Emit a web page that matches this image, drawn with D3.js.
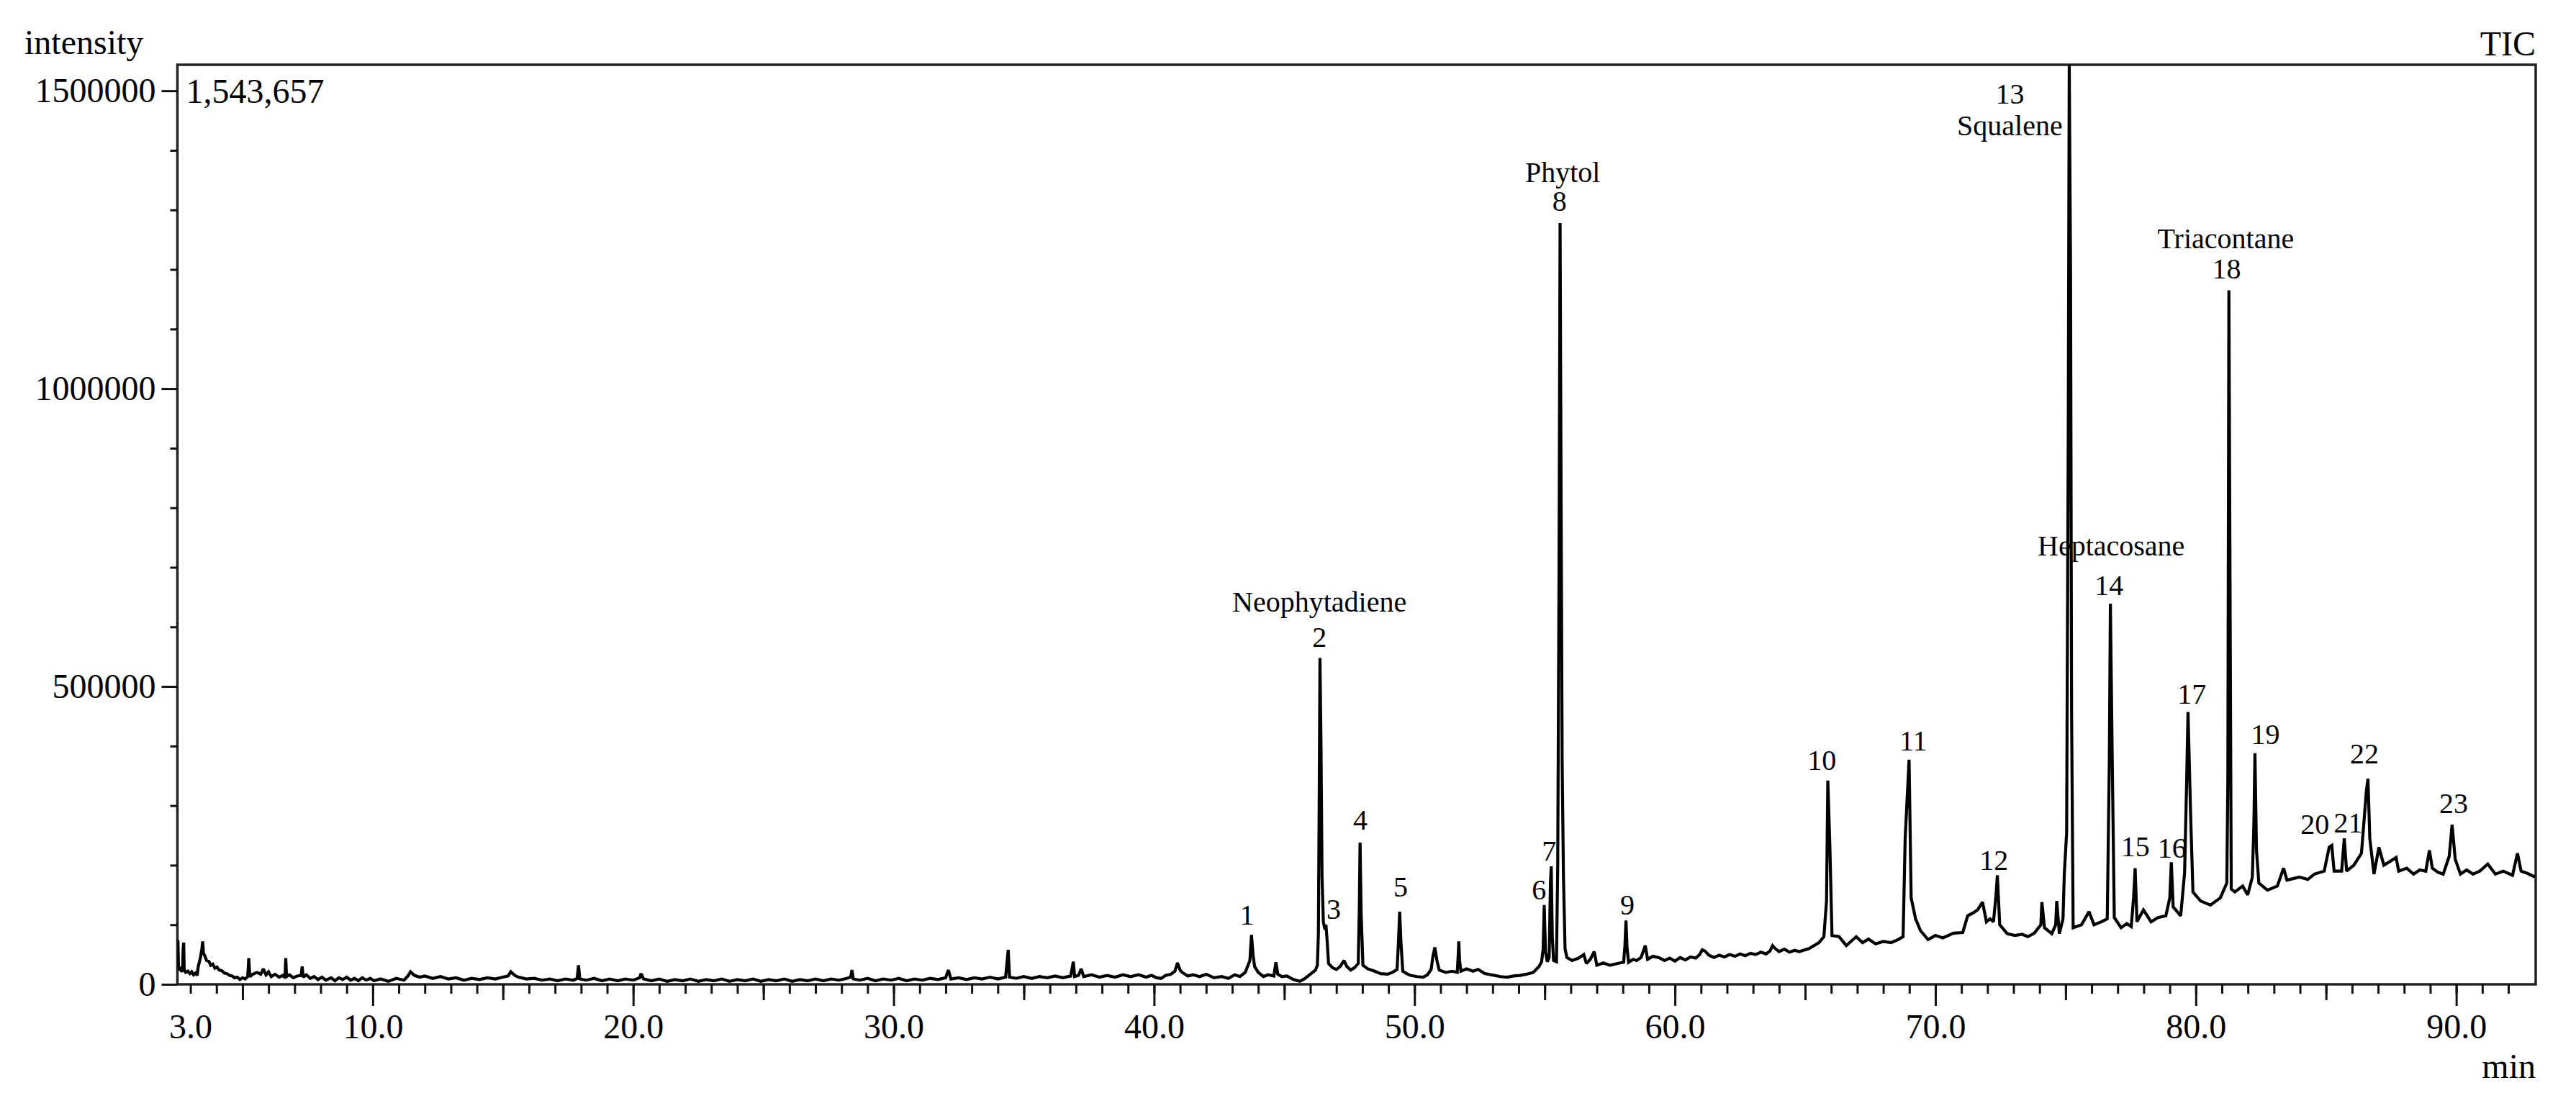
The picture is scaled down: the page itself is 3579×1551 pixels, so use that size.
<!DOCTYPE html>
<html><head><meta charset="utf-8">
<script src="https://cdn.jsdelivr.net/npm/d3@7"></script>
<style>
body{margin:0;background:#fff}
svg{display:block}
text{font-family:"Liberation Serif","Times New Roman",serif;fill:#000}
</style>
</head><body>
<svg id="chart" width="3579" height="1551"></svg>
<script>
// ---------- DATA (retention time in min, intensity in thousands of counts) ----------
const traceEarly = [[2.50,74],[2.52,72],[2.54,30],[2.58,24],[2.62,26],[2.66,21],[2.70,25],[2.72,60],[2.74,70],[2.76,24],[2.82,20],[2.90,22],[2.98,18],[3.05,21],[3.12,16],[3.20,19],[3.26,15],[3.30,30],[3.38,44],[3.44,60],[3.47,72],[3.50,52],[3.56,47],[3.62,40],[3.70,39],[3.78,32],[3.86,34],[3.94,27],[4.02,29],[4.10,24],[4.20,23],[4.30,19],[4.40,18],[4.50,15],[4.60,14],[4.70,11],[4.80,12],[4.90,8],[5.00,11],[5.10,9],[5.20,13],[5.24,44],[5.28,13],[5.40,17],[5.55,20],[5.70,17],[5.80,26],[5.90,16],[6.00,21],[6.10,13],[6.25,17],[6.40,12],[6.55,15],[6.63,11],[6.66,44],[6.69,13],[6.80,16],[6.95,11],[7.10,14],[7.25,15],[7.29,30],[7.33,12],[7.45,16],[7.60,10],[7.75,13],[7.90,8],[8.05,12],[8.20,7],[8.40,11],[8.55,6],[8.70,11],[8.85,8],[9.00,12],[9.15,7],[9.30,10],[9.45,6],[9.60,11],[9.75,7],[9.90,10]];
const traceMid = [[10.05,6],[10.3,9],[10.6,5],[10.9,10],[11.2,7],[11.35,14],[11.45,21],[11.6,15],[11.8,12],[12.0,14],[12.3,10],[12.6,13],[12.9,9],[13.2,11],[13.5,7],[13.8,10],[14.1,8],[14.4,11],[14.7,9],[15.0,12],[15.2,14],[15.3,21],[15.45,15],[15.6,12],[15.9,9],[16.2,10],[16.5,7],[16.8,9],[17.1,6],[17.4,9],[17.7,7],[17.85,10],[17.9,32],[17.95,9],[18.2,7],[18.5,10],[18.8,6],[19.1,9],[19.4,6],[19.7,9],[20.0,7],[20.25,11],[20.3,18],[20.4,9],[20.7,6],[21.0,9],[21.3,5],[21.6,8],[21.9,6],[22.2,9],[22.5,5],[22.8,8],[23.1,6],[23.4,9],[23.7,5],[24.0,8],[24.3,6],[24.6,9],[24.9,5],[25.2,8],[25.5,6],[25.8,9],[26.1,5],[26.4,8],[26.7,6],[27.0,9],[27.3,6],[27.6,9],[27.9,7],[28.2,10],[28.35,12],[28.4,24],[28.45,9],[28.7,7],[29.0,10],[29.3,6],[29.6,9],[29.9,7],[30.2,10],[30.5,6],[30.8,9],[31.1,7],[31.4,10],[31.7,8],[32.0,11],[32.1,24],[32.2,9],[32.5,11],[32.8,8],[33.1,11],[33.4,9],[33.7,12],[34.0,9],[34.3,12],[34.4,58],[34.45,12],[34.7,10],[35.0,13],[35.3,10],[35.6,13],[35.9,11],[36.2,14],[36.5,11],[36.8,14],[36.9,38],[36.95,13],[37.1,15],[37.2,26],[37.3,13],[37.6,16],[37.9,12],[38.2,15],[38.5,12],[38.8,16],[39.1,13],[39.4,16],[39.7,12]];
const traceMain = [[39.9,15],[40.1,11],[40.27,10],[40.45,15],[40.65,17],[40.8,22],[40.9,36],[41.0,24],[41.08,20],[41.3,14],[41.5,16],[41.75,13],[42.0,17],[42.3,11],[42.6,13],[42.85,10],[43.1,16],[43.3,13],[43.5,20],[43.68,40],[43.74,83],[43.8,50],[43.86,30],[44.0,20],[44.2,13],[44.37,16],[44.6,14],[44.68,37],[44.75,17],[44.9,13],[45.1,14],[45.35,8],[45.6,5],[45.8,10],[46.0,17],[46.2,24],[46.27,32],[46.31,85],[46.34,300],[46.37,548],[46.41,400],[46.45,180],[46.5,105],[46.56,92],[46.6,100],[46.65,70],[46.7,35],[46.85,28],[47.0,25],[47.15,30],[47.29,40],[47.4,30],[47.55,24],[47.7,28],[47.84,35],[47.88,125],[47.91,238],[47.95,120],[48.02,32],[48.2,26],[48.47,22],[48.7,18],[48.97,17],[49.15,20],[49.33,25],[49.38,67],[49.43,122],[49.48,70],[49.55,22],[49.7,18],[49.84,15],[50.1,13],[50.33,12],[50.5,16],[50.64,25],[50.7,45],[50.78,62],[50.86,40],[50.95,24],[51.2,20],[51.45,22],[51.64,20],[51.68,50],[51.7,72],[51.73,40],[51.78,22],[52.0,26],[52.25,22],[52.44,25],[52.7,18],[53.07,15],[53.3,13],[53.56,12],[53.8,14],[54.06,15],[54.3,17],[54.56,20],[54.78,30],[54.88,38],[54.94,60],[54.98,133],[55.03,55],[55.1,38],[55.17,45],[55.22,170],[55.25,198],[55.29,80],[55.34,40],[55.45,38],[55.5,200],[55.55,700],[55.59,1278],[55.63,800],[55.67,370],[55.72,180],[55.78,60],[55.85,45],[56.05,40],[56.3,44],[56.5,50],[56.6,35],[56.75,42],[56.9,55],[57.0,32],[57.25,36],[57.5,32],[57.8,35],[58.03,37],[58.08,65],[58.12,107],[58.16,62],[58.22,37],[58.4,42],[58.53,40],[58.7,45],[58.86,65],[58.95,42],[59.15,47],[59.37,45]];
const traceLate = [[59.6,40],[59.8,44],[60.0,39],[60.2,45],[60.4,41],[60.6,46],[60.8,44],[60.95,50],[61.05,58],[61.15,56],[61.3,49],[61.5,45],[61.7,49],[61.9,46],[62.1,50],[62.3,47],[62.5,51],[62.7,48],[62.9,52],[63.1,50],[63.3,54],[63.5,51],[63.65,56],[63.75,65],[63.85,60],[64.0,55],[64.2,59],[64.4,54],[64.6,57],[64.77,55],[65.15,60],[65.53,70],[65.72,80],[65.82,140],[65.87,342],[65.95,230],[66.03,82],[66.3,80],[66.58,65],[66.96,80],[67.2,70],[67.43,76],[67.7,68],[68.0,72],[68.3,70],[68.57,75],[68.76,80],[68.84,245],[68.99,377],[69.07,145],[69.24,110],[69.43,90],[69.72,75],[70.0,82],[70.29,78],[70.7,86],[71.05,87],[71.24,115],[71.45,120],[71.62,125],[71.81,138],[71.96,105],[72.1,110],[72.23,105],[72.33,150],[72.38,183],[72.47,100],[72.76,85],[73.05,82],[73.33,84],[73.55,80],[73.8,86],[74.05,100],[74.09,138],[74.19,95],[74.47,85],[74.62,100],[74.66,140],[74.76,85],[74.9,110],[74.95,185],[75.04,255],[75.1,900],[75.14,1543.657],[75.19,1200],[75.23,456],[75.29,95],[75.61,100],[75.9,122],[76.09,100],[76.37,105],[76.6,110],[76.68,380],[76.72,639],[76.79,380],[76.87,112],[77.13,95],[77.35,102],[77.52,97],[77.61,145],[77.67,195],[77.74,105],[77.99,125],[78.28,105],[78.55,112],[78.85,115],[79.0,145],[79.06,205],[79.13,130],[79.42,115],[79.57,188],[79.65,345],[79.7,457],[79.8,285],[79.89,155],[80.18,140],[80.56,133],[80.94,145],[81.19,170],[81.23,345],[81.27,1165],[81.32,600],[81.36,160],[81.5,155],[81.8,165],[81.99,150],[82.17,180],[82.23,270],[82.27,388],[82.33,225],[82.42,170],[82.75,158],[83.13,165],[83.37,195],[83.5,175],[83.98,180],[84.3,176],[84.55,185],[84.93,190],[85.12,230],[85.22,233],[85.31,190],[85.6,190],[85.7,245],[85.79,190],[86.07,200],[86.36,220],[86.55,325],[86.61,345],[86.68,245],[86.84,185],[87.03,230],[87.22,200],[87.41,205],[87.69,213],[87.79,190],[88.1,195],[88.36,185],[88.6,192],[88.83,190],[88.97,225],[89.08,195],[89.3,188],[89.5,185],[89.73,215],[89.84,268],[89.96,210],[90.16,185],[90.4,192],[90.64,185],[90.9,190],[91.21,202],[91.5,185],[91.8,190],[92.16,183],[92.35,220],[92.49,190],[92.75,186],[93.02,180]];

// peak numbers with label anchors (time, intensity in thousands)
const peakNumbers    = ["1","2","3","4","5","6","7","8","9","10","11","12","13","14","15","16","17","18","19","20","21","22","23"];
const peakLabelTime  = [43.57,46.35,46.9,47.92,49.47,54.78,55.17,55.57,58.17,65.64,69.15,72.25,72.86,76.67,77.68,79.09,79.85,81.18,82.67,84.57,85.85,86.47,89.9];
const peakLabelValue = [100,566,110,260,147,142.5,208,1298,117.5,360.5,393,192.6,1479,653,215,212.6,471,1185,403,252.8,255,370.8,287.8];

const compoundNames = ["Neophytadiene","Phytol","Squalene","Heptacosane","Triacontane"];
const compoundTime  = [46.35,55.69,72.86,76.75,81.15];
const compoundValue = [626,1346.6,1425,720,1235.5];

const xTickLabels = [3,10,20,30,40,50,60,70,80,90];
const yTickLabels = [0,500000,1000000,1500000];
const yMax = 1543657;

// ---------- DRAW ----------
const svg = d3.select("#chart");
const x = d3.scaleLinear().domain([2.5, 93.05]).range([246.5, 3523]);
const y = d3.scaleLinear().domain([0, yMax]).range([1368, 90]);

const trace = [].concat(traceEarly, traceMid, traceMain, traceLate);

// frame
svg.append("rect")
  .attr("x", x(2.5)).attr("y", y(yMax))
  .attr("width", x(93.05) - x(2.5)).attr("height", y(0) - y(yMax))
  .attr("fill", "none").attr("stroke", "#222").attr("stroke-width", 3.5);

const fontSize = 48;
function styleAxis(g){
  g.select(".domain").remove();
  g.selectAll(".tick line").attr("stroke", "#111").attr("stroke-width", 3);
  g.selectAll("text").attr("font-size", fontSize)
   .attr("font-family", '"Liberation Serif","Times New Roman",serif').attr("fill","#000");
}

// x axis ticks: minor 1 min, medium 5 min, major 10 min
const xg = svg.append("g").attr("transform", `translate(0,${y(0)})`);
xg.append("g").call(d3.axisBottom(x).tickValues(d3.range(4, 93)).tickSize(13).tickFormat("")).call(styleAxis);
xg.append("g").call(d3.axisBottom(x).tickValues(d3.range(5, 93, 10)).tickSize(22).tickFormat("")).call(styleAxis);
xg.append("g").call(d3.axisBottom(x).tickValues(xTickLabels.slice(1)).tickSize(30).tickPadding(11).tickFormat(d3.format(".1f"))).call(styleAxis);
xg.append("g").call(d3.axisBottom(x).tickValues(xTickLabels.slice(0,1)).tickSize(13).tickPadding(28).tickFormat(d3.format(".1f"))).call(styleAxis);

// y axis ticks
const yg = svg.append("g").attr("transform", `translate(${x(2.5)},0)`);
yg.append("g").call(d3.axisLeft(y).tickValues(d3.range(100000, yMax, 100000).filter(v => v % 500000 !== 0)).tickSize(10).tickFormat("")).call(styleAxis);
yg.append("g").call(d3.axisLeft(y).tickValues(yTickLabels).tickSize(22).tickPadding(8).tickFormat(d3.format("d"))).call(styleAxis);

// chromatogram trace
svg.append("defs").append("clipPath").attr("id", "plotclip")
  .append("rect").attr("x", x(2.5)).attr("y", y(yMax)).attr("width", x(93.05) - x(2.5)).attr("height", y(0) - y(yMax));
const line = d3.line().x(d => x(d[0])).y(d => y(d[1] * 1000));
svg.append("path").datum(trace)
  .attr("clip-path", "url(#plotclip)")
  .attr("d", line).attr("fill", "none").attr("stroke", "#000")
  .attr("stroke-width", 4.2).attr("stroke-linejoin", "miter").attr("stroke-miterlimit", 2);

// peak numbers
svg.append("g").selectAll("text").data(peakNumbers).join("text")
  .attr("x", (d, i) => x(peakLabelTime[i]))
  .attr("y", (d, i) => y(peakLabelValue[i] * 1000))
  .attr("text-anchor", "middle").attr("font-size", 40).text(d => d);

// compound names
svg.append("g").selectAll("text").data(compoundNames).join("text")
  .attr("x", (d, i) => x(compoundTime[i]))
  .attr("y", (d, i) => y(compoundValue[i] * 1000))
  .attr("text-anchor", "middle").attr("font-size", 40).text(d => d);

// titles / annotations
svg.append("text").attr("x", 34).attr("y", 75).attr("font-size", fontSize).text("intensity");
svg.append("text").attr("x", x(2.5) + 12).attr("y", 143).attr("font-size", fontSize).text(d3.format(",")(yMax));
svg.append("text").attr("x", x(93.05)).attr("y", 77).attr("text-anchor", "end").attr("font-size", fontSize).text("TIC");
svg.append("text").attr("x", x(93.05)).attr("y", 1498).attr("text-anchor", "end").attr("font-size", fontSize).text("min");
</script>
</body></html>
